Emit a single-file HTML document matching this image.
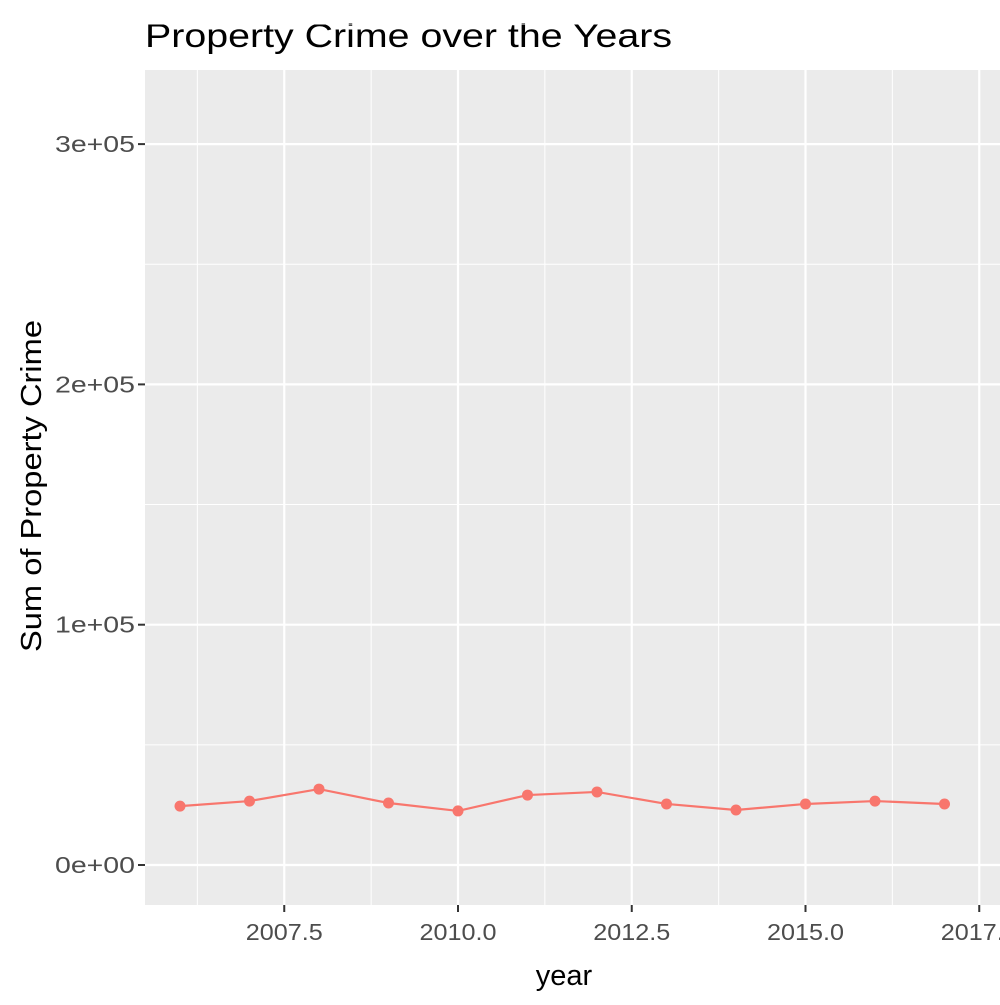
<!DOCTYPE html>
<html><head><style>
body{margin:0;background:#fff;width:1000px;height:1000px;overflow:hidden}
text{font-family:"Liberation Sans",Arial,sans-serif}
</style></head><body>
<svg id="chart" width="1000" height="1000">
<rect x="0" y="0" width="1000" height="1000" fill="#fff"/>
<text x="145" y="47" font-size="33" fill="#000" textLength="527" lengthAdjust="spacingAndGlyphs">Property Crime over the Years</text>
<rect x="145" y="70" width="860" height="835" fill="#ebebeb"/>
<g id="grid"></g><g id="axes"></g><g id="series"></g>
<text x="564" y="985" font-size="29" text-anchor="middle" fill="#000">year</text>
<text transform="translate(41,486) rotate(-90)" font-size="29" text-anchor="middle" fill="#000" textLength="332" lengthAdjust="spacingAndGlyphs">Sum of Property Crime</text>
</svg>
<script>
const years=[2006,2007,2008,2009,2010,2011,2012,2013,2014,2015,2016,2017];
const crimes=[24500,26600,31600,25800,22500,29100,30400,25400,22900,25400,26600,25400];
const xTicks=[2007.5,2010.0,2012.5,2015.0,2017.5];
const xTickLabels=["2007.5","2010.0","2012.5","2015.0","2017.5"];
const yTicks=[0,100000,200000,300000];
const yTickLabels=["0e+00","1e+05","2e+05","3e+05"];
const NS="http://www.w3.org/2000/svg";
const xs=v=>458+(v-2010)*69.5;
const ys=v=>865-v/100000*240.3;
function mk(tag,attrs,parent){const e=document.createElementNS(NS,tag);for(const k in attrs)e.setAttribute(k,attrs[k]);document.getElementById(parent).appendChild(e);return e;}
for(let i=0;i<xTicks.length;i++){
  const m=xTicks[i]-1.25;
  const g=mk('line',{x1:xs(m),x2:xs(m),y1:70,y2:905,stroke:'#fff','stroke-width':1},'grid');
  
  
}
for(let i=0;i<yTicks.length;i++){
  const m=yTicks[i]+50000;
  const g=mk('line',{x1:145,x2:1000,y1:ys(m),y2:ys(m),stroke:'#fff','stroke-width':1},'grid');
  
  
}
xTicks.forEach((t,i)=>{
  const g=mk('line',{x1:xs(t),x2:xs(t),y1:70,y2:905,stroke:'#fff','stroke-width':2.2},'grid');
  
  
  const tk=mk('line',{x1:xs(t),x2:xs(t),y1:905,y2:912,stroke:'#333','stroke-width':2},'axes');
  
  
  const l=mk('text',{x:xs(t),y:940,'font-size':23,'text-anchor':'middle',fill:'#4d4d4d',textLength:77,lengthAdjust:'spacingAndGlyphs'},'axes');
  l.textContent=xTickLabels[i];
  
  
});
yTicks.forEach((t,i)=>{
  const g=mk('line',{x1:145,x2:1000,y1:ys(t),y2:ys(t),stroke:'#fff','stroke-width':2.2},'grid');
  
  
  const tk=mk('line',{x1:138,x2:145,y1:ys(t),y2:ys(t),stroke:'#333','stroke-width':2},'axes');
  
  
  const l=mk('text',{x:55,y:ys(t)+8,'font-size':23,fill:'#4d4d4d',textLength:80,lengthAdjust:'spacingAndGlyphs'},'axes');
  l.textContent=yTickLabels[i];
  
  
});
const pts=years.map((y,i)=>xs(y)+','+ys(crimes[i])).join(' ');
const pl=mk('polyline',{points:pts,fill:'none',stroke:'#f8766d','stroke-width':2.2},'series');


years.forEach((y,i)=>{
  const c=mk('circle',{cx:xs(y),cy:ys(crimes[i]),r:5.5,fill:'#f8766d'},'series');
  
  
});
</script>
</body></html>
